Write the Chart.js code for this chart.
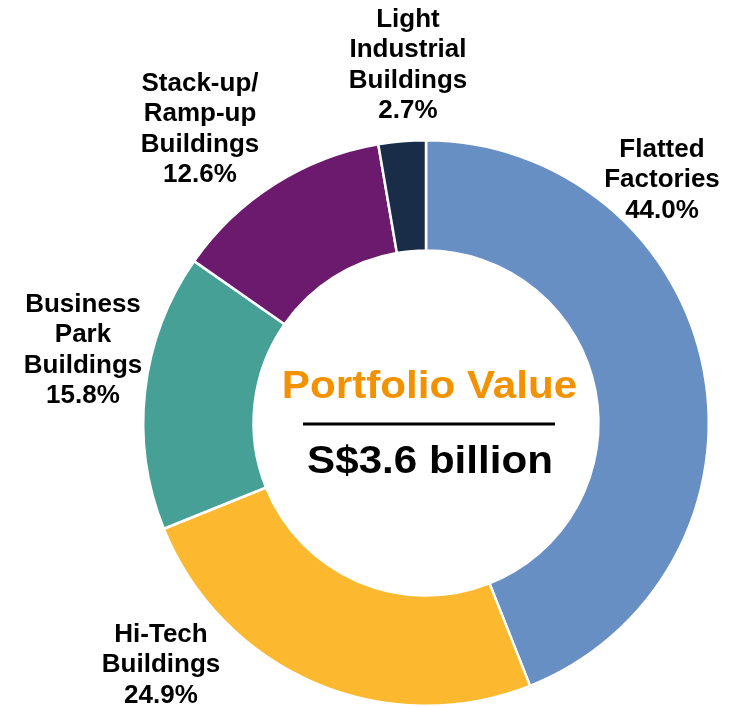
<!DOCTYPE html>
<html>
<head>
<meta charset="utf-8">
<script src="https://cdn.jsdelivr.net/npm/chart.js@4"></script>
<style>
  html, body { margin: 0; padding: 0; background: #fff; }
  #wrap { width: 738px; height: 707px; }
</style>
</head>
<body>
<div id="wrap"><canvas id="chart" width="738" height="707"></canvas></div>
<script>
// segment names (one entry per printed line) and their share of portfolio value, %
const categories = [
  ['Flatted', 'Factories'],
  ['Hi-Tech', 'Buildings'],
  ['Business', 'Park', 'Buildings'],
  ['Stack-up/', 'Ramp-up', 'Buildings'],
  ['Light', 'Industrial', 'Buildings']
];
const shares = [44.0, 24.9, 15.8, 12.6, 2.7];
const colors = ['#678fc4', '#fcb92f', '#46a095', '#6b1a6e', '#1a2d48'];

const centerTitle = 'Portfolio Value';
const centerValue = 'S$3.6 billion';

// where each outside label sits, relative to the doughnut centre (x centre, first baseline)
const labelSpots = [
  [236, -266],
  [-265, 219],
  [-343, -111],
  [-226, -332],
  [-18, -396]
];
const labelFont = 'bold 25.5px "Liberation Sans", Arial, sans-serif';
const lineGap = 30.4;

// draw text squeezed/stretched horizontally around its centre
function wideText(ctx, text, x, y, sx) {
  ctx.save();
  ctx.translate(x, y);
  ctx.scale(sx, 1);
  ctx.fillText(text, 0, 0);
  ctx.restore();
}

const outsideLabels = {
  id: 'outsideLabels',
  afterDraw(chart) {
    const ctx = chart.ctx;
    const arcs = chart.getDatasetMeta(0).data;
    if (!arcs.length) return;
    const cx = arcs[0].x, cy = arcs[0].y;
    ctx.save();
    ctx.font = labelFont;
    ctx.fillStyle = '#000';
    ctx.textAlign = 'center';
    ctx.textBaseline = 'alphabetic';
    arcs.forEach((arc, i) => {
      const lines = categories[i].concat(shares[i].toFixed(1) + '%');
      const [dx, dy] = labelSpots[i];
      lines.forEach((t, k) => wideText(ctx, t, cx + dx, cy + dy + k * lineGap, 1.02));
    });

    // centre text
    ctx.font = 'bold 38px "Liberation Sans", Arial, sans-serif';
    ctx.fillStyle = '#f39200';
    wideText(ctx, centerTitle, cx + 3.5, cy - 25, 1.11);
    ctx.fillStyle = '#000';
    ctx.fillRect(cx - 123, cy - 0.5, 252, 3);
    ctx.font = 'bold 39px "Liberation Sans", Arial, sans-serif';
    wideText(ctx, centerValue, cx + 4, cy + 50, 1.08);
    ctx.restore();
  }
};

new Chart(document.getElementById('chart'), {
  type: 'doughnut',
  data: {
    labels: categories.map(c => c.join(' ')),
    datasets: [{
      data: shares,
      backgroundColor: colors,
      borderColor: '#ffffff',
      borderWidth: 2.5
    }]
  },
  options: {
    responsive: false,
    animation: false,
    cutout: '61%',
    layout: { padding: { left: 142, right: 28, top: 139, bottom: 0 } },
    plugins: {
      legend: { display: false },
      tooltip: { enabled: false }
    }
  },
  plugins: [outsideLabels]
});
</script>
</body>
</html>
